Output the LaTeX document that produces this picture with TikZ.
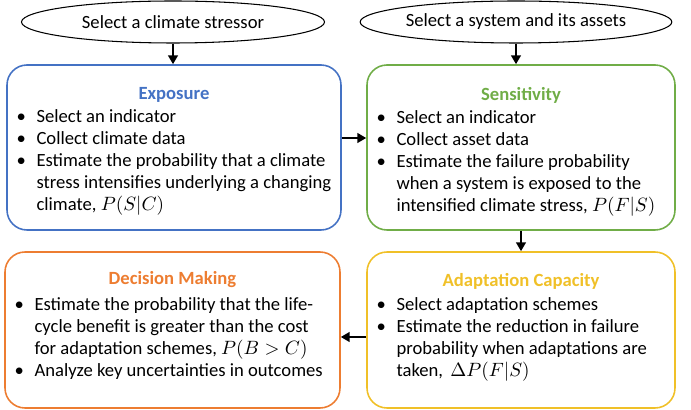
\documentclass[tikz,border=0pt]{standalone}
\usepackage[no-math]{fontspec}
\setmainfont{Carlito}
\usetikzlibrary{arrows.meta, positioning, shapes.geometric}

\definecolor{expblue}{RGB}{68,114,196}
\definecolor{sensgreen}{RGB}{112,173,71}
\definecolor{adaptgold}{RGB}{240,192,40}
\definecolor{decorange}{RGB}{237,125,49}
\newcommand{\bul}{\makebox[0.4cm][l]{\textbullet}}

\begin{document}
\begin{tikzpicture}[>={Triangle[length=5pt,width=5.5pt]}, font=\fontsize{10.6}{12.5}\selectfont,
  sel/.style={draw, ellipse, line width=0.6pt, minimum height=0.84cm, inner sep=0pt},
  card/.style={draw, rounded corners=0.4cm, line width=0.9pt},
  ttl/.style={inner sep=0pt, font=\fontsize{10.6}{12.5}\selectfont\bfseries},
  lst/.style={inner sep=0pt, align=left, anchor=north west},
  link/.style={->, line width=1.1pt}]
\useasboundingbox (0,0) rectangle (13.82,8.2);
% the two starting choices
\node[sel, minimum width=6.06cm] (stressor) at (3.46,7.76) {Select a climate stressor};
\node[sel, minimum width=5.54cm] (system) at (10.32,7.76) {Select a system and its assets};
% the four steps
\node[card, draw=expblue, minimum width=6.68cm, minimum height=3.3cm] (exp) at (3.48,5.25) {};
\node[card, draw=sensgreen, minimum width=6.16cm, minimum height=3.3cm] (sens) at (10.42,5.25) {};
\node[card, draw=adaptgold, minimum width=6.16cm, minimum height=3.12cm] (adapt) at (10.42,1.6) {};
\node[card, draw=decorange, minimum width=6.7cm, minimum height=3.12cm] (dec) at (3.45,1.6) {};
\node[ttl, text=expblue] (exptitle) at ([yshift=-0.62cm]exp.north) {Exposure};
\node[ttl, text=sensgreen] (senstitle) at ([yshift=-0.62cm]sens.north) {Sensitivity};
\node[ttl, text=adaptgold] (adapttitle) at ([yshift=-0.6cm]adapt.north) {Adaptation Capacity};
\node[ttl, text=decorange] (dectitle) at ([yshift=-0.57cm]dec.north) {Decision Making};
\node[lst] (explist) at ([xshift=0.2cm,yshift=-3.7pt]exp.west |- exptitle.south)
  {\bul Select an indicator\\ \bul Collect climate data\\ \bul Estimate the probability that a climate\\
   \hspace*{0.4cm}stress intensifies underlying a changing\\ \hspace*{0.4cm}climate, $P(S|C)$};
\node[lst] (senslist) at ([xshift=0.2cm,yshift=-3.7pt]sens.west |- senstitle.south)
  {\bul Select an indicator\\ \bul Collect asset data\\ \bul Estimate the failure probability\\
   \hspace*{0.4cm}when a system is exposed to the\\ \hspace*{0.4cm}intensified climate stress, $P(F|S)$};
\node[lst] (adaptlist) at ([xshift=0.2cm,yshift=-4.6pt]adapt.west |- adapttitle.south)
  {\bul Select adaptation schemes\\ \bul Estimate the reduction in failure\\
   \hspace*{0.4cm}probability when adaptations are\\ \hspace*{0.4cm}taken, \,$\Delta P(F|S)$};
\node[lst] (declist) at ([xshift=0.2cm,yshift=-5.2pt]dec.west |- dectitle.south)
  {\bul Estimate the probability that the life-\\ \hspace*{0.4cm}cycle benefit is greater than the cost\\
   \hspace*{0.4cm}for adaptation schemes, $P(B>C)$\\ \bul Analyze key uncertainties in outcomes};
% flow
\draw[link] (stressor.south) -- (stressor.south |- exp.north);
\draw[link] (system.south) -- (system.south |- sens.north);
\draw[link] ([yshift=0.19cm]exp.east) -- ([yshift=0.19cm]sens.west);
\draw[link] (sens.south) -- (adapt.north);
\draw[link] ([yshift=-0.14cm]adapt.west) -- ([yshift=-0.14cm]dec.east);
\end{tikzpicture}
\end{document}
